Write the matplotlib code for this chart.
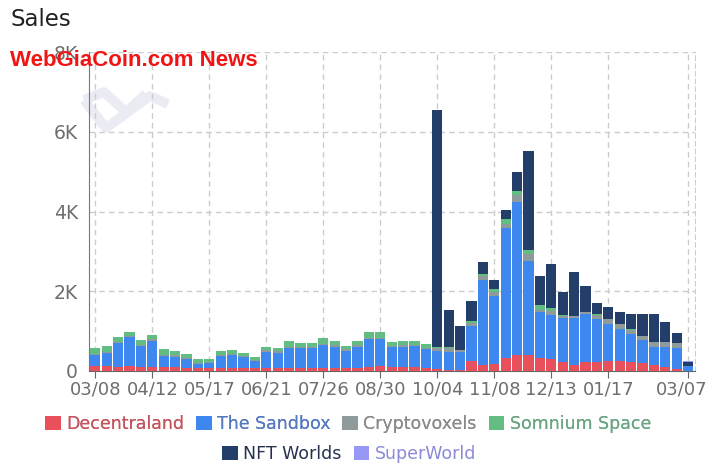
import numpy as np
from matplotlib import pyplot as plt
from matplotlib.patches import Patch
from matplotlib.transforms import ScaledTranslation

# weekly sales
decentraland = [125, 125, 110, 125, 110, 110, 95, 90, 85, 80,
                75, 70, 70, 70, 70, 70, 70, 70, 75, 75,
                80, 80, 80, 85, 90, 130, 100, 110, 100, 80,
                58, 30, 30, 258, 150, 167, 333, 400, 400, 317,
                292, 233, 150, 233, 233, 258, 258, 233, 192, 150,
                92, 42, 0]
sandbox = [275, 324, 582, 717, 515, 647, 280, 268, 207, 87,
           117, 304, 322, 272, 180, 413, 388, 497, 492, 492,
           569, 527, 428, 523, 702, 662, 492, 497, 524, 462,
           452, 453, 437, 875, 2125, 1708, 3251, 3850, 2359, 1166,
           1108, 1097, 1168, 1185, 1067, 916, 783, 692, 582, 442,
           515, 525, 125]
cryptovoxels = [35] * 30 + [62, 100, 50, 75, 117, 100, 108, 158, 183, 50,
                            117, 40, 50, 50, 100, 125, 135, 105, 98, 130,
                            115, 130, 0]
somnium = [132, 148, 115, 105, 107, 115, 132, 107, 98, 105,
           80, 98, 98, 80, 57, 82, 82, 140, 105, 105,
           148, 115, 82, 107, 148, 140, 98, 100, 98, 90,
           20, 25, 8, 50, 50, 75, 125, 100, 100, 117,
           75, 43, 15, 15, 17, 17, 15, 12, 10, 10,
           10, 10, 0]
nft_worlds = [0] * 30 + [5950, 917, 608, 500, 283, 242, 225, 475, 2475, 742,
                         1083, 575, 1100, 642, 300, 292, 292, 375, 535, 685,
                         485, 235, 100]
superworld = [0] * 52 + [15]

tick_pos = [0, 5, 10, 15, 20, 25, 30, 35, 40, 45, 52]
tick_labels = ["03/08", "04/12", "05/17", "06/21", "07/26", "08/30",
               "10/04", "11/08", "12/13", "01/17", "03/07"]

names = ["Decentraland", "The Sandbox", "Cryptovoxels", "Somnium Space", "NFT Worlds", "SuperWorld"]
colors = ["#e8505b", "#3d87ef", "#8f9a9a", "#62bd82", "#243e6a", "#9797f5"]
text_colors = ["#c4555e", "#5579bd", "#8a8a8a", "#6aa583", "#26324d", "#8a8ad8"]

fig = plt.figure(figsize=(7.12, 4.75), dpi=100)
ax = fig.add_axes([89 / 712, 1 - 371 / 475, (695 - 89) / 712, (371 - 52) / 475])
ax.set_facecolor("none")

x = np.arange(len(sandbox))
bottom = np.zeros(len(x))
for vals, c in zip([decentraland, sandbox, cryptovoxels, somnium, nft_worlds, superworld], colors):
    ax.bar(x, vals, 0.9, bottom=bottom, color=c, linewidth=0, zorder=3)
    bottom += np.array(vals)

ax.set_xlim(-0.55, 52.6)
ax.set_ylim(0, 8000)
ax.set_yticks([0, 2000, 4000, 6000, 8000])
ax.set_yticklabels(["0", "2K", "4K", "6K", "8K"])
ax.set_xticks(tick_pos)
ax.set_xticklabels(tick_labels)

grid_style = dict(color="#cccccc", linestyle=(0, (4, 3)), linewidth=1)
ax.yaxis.grid(True, **grid_style)
ax.xaxis.grid(True, **grid_style)
ax.set_axisbelow(True)

ax.spines["top"].set_visible(False)
ax.spines["right"].set_color("#cccccc")
ax.spines["right"].set_linestyle((0, (4, 3)))
ax.spines["left"].set_color("#777777")
ax.spines["bottom"].set_color("#666666")
ax.tick_params(axis="y", length=0, pad=8, labelsize=13.5, labelcolor="#6e6e6e")
ax.tick_params(axis="x", length=5, color="#666666", pad=2, labelsize=13, labelcolor="#6e6e6e")

# last date label sits against the right edge, nudge it in a little
last = ax.get_xticklabels()[-1]
last.set_transform(last.get_transform() + ScaledTranslation(-6 / 100, 0, fig.dpi_scale_trans))

# faint logo behind the axes
logo = dict(color="#ebebf4", linewidth=7, solid_capstyle="butt", zorder=0)
fig.add_artist(plt.Line2D([84 / 712, 104 / 712, 126 / 712], [1 - 100 / 475, 1 - 92 / 475, 1 - 112 / 475], transform=fig.transFigure, **logo))
fig.add_artist(plt.Line2D([84 / 712, 106 / 712, 150 / 712, 168 / 712], [1 - 100 / 475, 1 - 128 / 475, 1 - 96 / 475, 1 - 104 / 475], transform=fig.transFigure, **logo))
fig.add_artist(plt.Line2D([126 / 712, 146 / 712], [1 - 112 / 475, 1 - 94 / 475], transform=fig.transFigure, **logo))

fig.text(10 / 712, 1 - 19 / 475, "Sales", fontsize=16.5, color="#222222", va="center", ha="left")
fig.text(10 / 712, 1 - 61 / 475, "WebGiaCoin.com News", fontsize=16, fontweight="bold",
         family="Liberation Sans", color="#f01414", va="center", ha="left", zorder=10)

handles = [Patch(facecolor=c, edgecolor="none") for c in colors]
common = dict(loc="center", frameon=False, fontsize=12.5, handlelength=0.9, handleheight=0.9,
              handletextpad=0.3, columnspacing=0.7, borderaxespad=0, borderpad=0)
leg1 = fig.legend(handles[:4], names[:4], ncol=4, bbox_to_anchor=(348 / 712, 1 - 424 / 475),
                  labelcolor=text_colors[:4], **common)
fig.add_artist(leg1)
fig.legend(handles[4:], names[4:], ncol=2, bbox_to_anchor=(349 / 712, 1 - 454 / 475),
           labelcolor=text_colors[4:], **common)

fig.savefig("out.png", dpi=100)
